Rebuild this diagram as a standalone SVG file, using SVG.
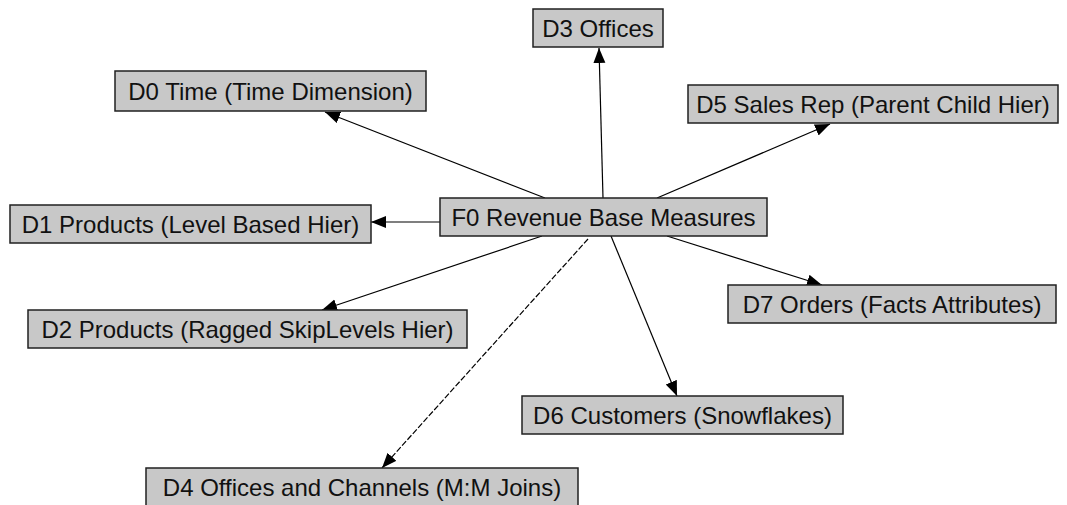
<svg xmlns="http://www.w3.org/2000/svg" width="1067" height="505" viewBox="0 0 1067 505">
<style>
.box{fill:#c8c8c8;stroke:#202020;stroke-width:1.5}
.lbl{font-family:"Liberation Sans",Arial,sans-serif;font-size:24px;fill:#111;text-anchor:middle}
.edge{stroke:#000;stroke-width:1.2;fill:none;marker-end:url(#arr)}
.dash{stroke-dasharray:6 2}
</style>
<defs>
<marker id="arr" markerUnits="userSpaceOnUse" markerWidth="16" markerHeight="13" refX="15" refY="6" orient="auto">
<path d="M0,0 L15,6 L0,12 z" fill="#000"/>
</marker>
</defs>
<rect width="1067" height="505" fill="#fff"/>
<g id="connectors">
<line class="edge" x1="545" y1="198" x2="325" y2="112"/>
<line class="edge" x1="603" y1="198" x2="599" y2="48"/>
<line class="edge" x1="657" y1="198" x2="830" y2="124"/>
<line class="edge" x1="440" y1="222" x2="371" y2="222"/>
<line class="edge" x1="542" y1="236" x2="322" y2="310"/>
<line class="edge dash" x1="588" y1="239" x2="382" y2="468"/>
<line class="edge" x1="611" y1="236" x2="677" y2="396"/>
<line class="edge" x1="667" y1="236" x2="822" y2="285"/>
</g>
<g id="D3"><rect class="box" x="533" y="9" width="130" height="38"/><text class="lbl" x="598" y="37">D3 Offices</text></g>
<g id="D0"><rect class="box" x="115" y="71" width="311" height="40"/><text class="lbl" x="270.5" y="100">D0 Time (Time Dimension)</text></g>
<g id="D5"><rect class="box" x="688" y="85" width="370" height="38"/><text class="lbl" x="873" y="113">D5 Sales Rep (Parent Child Hier)</text></g>
<g id="D1"><rect class="box" x="10" y="205" width="361" height="38"/><text class="lbl" x="190.5" y="233">D1 Products (Level Based Hier)</text></g>
<g id="F0"><rect class="box" x="440" y="198" width="327" height="38"/><text class="lbl" x="603.5" y="226">F0 Revenue Base Measures</text></g>
<g id="D2"><rect class="box" x="28" y="310" width="439" height="38"/><text class="lbl" x="247.5" y="338">D2 Products (Ragged SkipLevels Hier)</text></g>
<g id="D7"><rect class="box" x="728" y="285" width="328" height="38"/><text class="lbl" x="892" y="313">D7 Orders (Facts Attributes)</text></g>
<g id="D6"><rect class="box" x="522" y="396" width="321" height="38"/><text class="lbl" x="682.5" y="424">D6 Customers (Snowflakes)</text></g>
<g id="D4"><rect class="box" x="146" y="468" width="432" height="40"/><text class="lbl" x="362" y="496">D4 Offices and Channels (M:M Joins)</text></g>
</svg>
